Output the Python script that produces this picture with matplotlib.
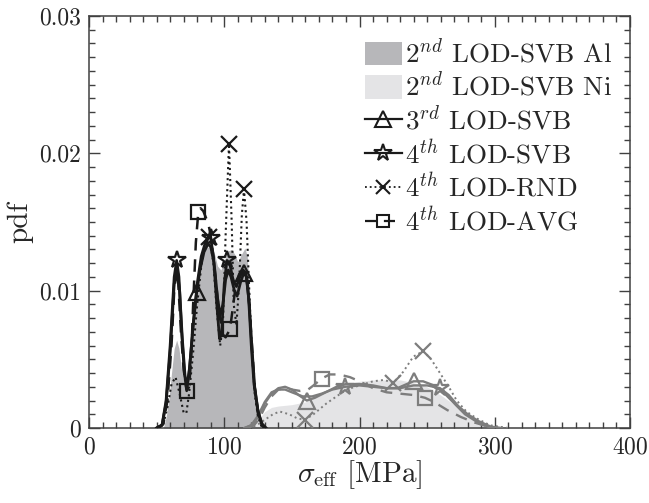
import numpy as np
import matplotlib
matplotlib.use("Agg")
import matplotlib.pyplot as plt
from matplotlib.patches import Patch
from matplotlib.lines import Line2D

plt.rcParams['font.family'] = 'serif'
plt.rcParams['font.serif'] = ['cmr10', 'DejaVu Serif']
plt.rcParams['mathtext.fontset'] = 'cm'
plt.rcParams['axes.formatter.use_mathtext'] = True

# ---------------- data ----------------
# 2nd LOD-SVB Al (filled, dark grey)
al_fill_x = [55, 57, 59, 61, 63, 64.8, 66.5, 68.5, 71, 73, 75, 78, 81, 84, 87, 90, 92.5, 95, 97.5,
             100, 103, 105.5, 108, 110, 112.5, 115.3, 117, 119, 120.5, 122, 123.5, 125, 127, 129]
al_fill_y = [0, 0.0008, 0.002, 0.004, 0.0058, 0.0064, 0.0058, 0.0042, 0.0030, 0.0040, 0.0065, 0.0095,
             0.0115, 0.0125, 0.0131, 0.0133, 0.0128, 0.0118, 0.0115, 0.0122, 0.0129, 0.0130, 0.0126,
             0.0121, 0.0126, 0.0131, 0.0125, 0.0095, 0.0060, 0.0035, 0.0018, 0.0008, 0.0002, 0]

# 2nd LOD-SVB Ni (filled, light grey)
ni_fill_x = [118, 122, 126, 130, 135, 140, 150, 160, 170, 180, 190, 200, 210, 220, 230, 240, 250,
             260, 270, 280, 290, 300, 306]
ni_fill_y = [0, 0.0002, 0.0007, 0.0012, 0.0015, 0.0016, 0.0017, 0.0019, 0.0024, 0.0029, 0.0032,
             0.0034, 0.0035, 0.0035, 0.0035, 0.0033, 0.0030, 0.0024, 0.0017, 0.0010, 0.0005,
             0.0001, 0]

# 3rd LOD-SVB
svb3_al_x = [50, 54, 57, 60, 63, 65, 67, 69, 71, 72.5, 74.5, 77, 79.6, 82, 85, 88, 90, 92.5, 95, 97,
             99, 101, 103, 105, 107.5, 109.5, 112, 114.5, 116.5, 118.5, 120.5, 122.5, 125, 127.5, 130]
svb3_al_y = [0, 0.0002, 0.0018, 0.0055, 0.0105, 0.0118, 0.0100, 0.0065, 0.0038, 0.0030, 0.0045,
             0.0075, 0.0099, 0.0115, 0.0128, 0.0134, 0.0132, 0.0120, 0.0095, 0.0082, 0.0090, 0.0108,
             0.0115, 0.0110, 0.0100, 0.0096, 0.0106, 0.0113, 0.0110, 0.0090, 0.0058, 0.0030, 0.0012,
             0.0003, 0]
svb3_al_mk = [79.6, 114.5]
svb3_ni_x = [115, 120, 125, 130, 135, 140, 145, 150, 155, 161, 167, 175, 183, 190, 200, 210, 220,
             228, 235, 240, 247, 255, 262, 270, 278, 286, 295, 302]
svb3_ni_y = [0, 0.0002, 0.0008, 0.0018, 0.0025, 0.0029, 0.0030, 0.0028, 0.0024, 0.0020, 0.0022,
             0.0026, 0.0030, 0.0032, 0.0032, 0.0031, 0.0029, 0.0029, 0.0032, 0.0034, 0.0034, 0.0031,
             0.0026, 0.0018, 0.0010, 0.0005, 0.0001, 0]
svb3_ni_mk = [161, 240]

# 4th LOD-SVB
svb4_al_x = [50, 54, 57, 60, 63, 64.8, 66.5, 68.5, 70.5, 72.2, 74, 77, 80, 83, 86, 88.5, 90, 92, 94.5,
             96.5, 98, 100, 102, 104, 106.5, 109, 111.5, 114, 116, 118, 120, 122, 125, 128, 131]
svb4_al_y = [0, 0.0002, 0.0020, 0.0060, 0.0110, 0.0122, 0.0110, 0.0070, 0.0040, 0.0028, 0.0040,
             0.0075, 0.0105, 0.0125, 0.0135, 0.0140, 0.0138, 0.0125, 0.0090, 0.0065, 0.0068, 0.0105,
             0.0122, 0.0120, 0.0108, 0.0103, 0.0110, 0.0115, 0.0113, 0.0095, 0.0060, 0.0032, 0.0012,
             0.0003, 0]
svb4_al_mk = [64.8, 90, 102]
svb4_ni_x = [115, 120, 125, 130, 135, 140, 145, 150, 158, 165, 172, 180, 189.3, 200, 210, 220, 230,
             240, 250, 259.5, 266, 273, 280, 288, 297, 305]
svb4_ni_y = [0, 0.0002, 0.0009, 0.0019, 0.0026, 0.0028, 0.0028, 0.0026, 0.0023, 0.0023, 0.0025,
             0.0028, 0.0030, 0.0031, 0.0030, 0.0029, 0.0029, 0.0031, 0.0031, 0.0029, 0.0024, 0.0016,
             0.0010, 0.0005, 0.0001, 0]
svb4_ni_mk = [189.3, 259.5]

# 4th LOD-RND
rnd_al_x = [52, 55, 58, 61, 64, 67, 70, 72, 74, 77, 80, 83, 86, 89, 92, 94.5, 97, 99, 101, 103.5,
            105.5, 107, 109, 111, 113, 114.6, 116.5, 118.5, 120.5, 122.5, 125, 128]
rnd_al_y = [0, 0.0003, 0.0015, 0.0032, 0.0037, 0.0025, 0.0011, 0.0011, 0.0025, 0.0055, 0.0090,
            0.0118, 0.0134, 0.0139, 0.0120, 0.0085, 0.0060, 0.0075, 0.0140, 0.0207, 0.0150, 0.0090,
            0.0075, 0.0105, 0.0155, 0.0174, 0.0150, 0.0100, 0.0055, 0.0025, 0.0008, 0]
rnd_al_mk = [89, 103.5, 114.6]
rnd_ni_x = [118, 124, 130, 136, 141, 148, 154, 159.7, 166, 175.7, 183, 190.5, 200, 210, 218, 225,
            232.4, 239.8, 247.2, 253, 259.5, 266, 271.9, 279, 286.6, 296.5, 310]
rnd_ni_y = [0, 0.0002, 0.0006, 0.0010, 0.0012, 0.0010, 0.0007, 0.0006, 0.0010, 0.0018, 0.0023,
            0.0028, 0.0031, 0.0034, 0.0035, 0.0033, 0.0041, 0.0052, 0.0056, 0.0050, 0.0040, 0.0030,
            0.0020, 0.0012, 0.0007, 0.0002, 0]
rnd_ni_mk = [159.7, 225, 247.2]

# 4th LOD-AVG
avg_al_x = [50, 55, 58, 61, 63, 64.5, 66, 68, 70, 72.2, 74, 75.5, 77, 79, 80.8, 82.5, 84.5, 86.5, 88,
            90, 93, 96, 99, 101, 104.3, 106, 108, 111, 114, 116.5, 118.5, 120.5, 122.5, 125, 127.5, 130]
avg_al_y = [0, 0.0003, 0.0020, 0.0060, 0.0100, 0.0115, 0.0105, 0.0070, 0.0042, 0.0027, 0.0030,
            0.0050, 0.0090, 0.0135, 0.0157, 0.0160, 0.0158, 0.0153, 0.0150, 0.0140, 0.0115, 0.0085,
            0.0068, 0.0066, 0.0072, 0.0085, 0.0100, 0.0112, 0.0115, 0.0110, 0.0090, 0.0060, 0.0030,
            0.0010, 0.0002, 0]
avg_al_mk = [72.2, 80.8, 104.3]
avg_ni_x = [118, 122, 126, 130, 135, 140, 145, 150, 156, 162, 166, 172, 178, 185, 193, 200, 210,
            220, 230, 240, 248.4, 255, 265, 275, 285, 295, 302]
avg_ni_y = [0, 0.0002, 0.0007, 0.0015, 0.0023, 0.0028, 0.0029, 0.0028, 0.0027, 0.0028, 0.0031,
            0.0036, 0.0039, 0.0039, 0.0037, 0.0034, 0.0029, 0.0026, 0.0025, 0.0024, 0.0022, 0.0019,
            0.0013, 0.0008, 0.0004, 0.0001, 0]
avg_ni_mk = [172, 248.4]

labels = [r'$2^{nd}$ LOD-SVB Al', r'$2^{nd}$ LOD-SVB Ni', r'$3^{rd}$ LOD-SVB',
          r'$4^{th}$ LOD-SVB', r'$4^{th}$ LOD-RND', r'$4^{th}$ LOD-AVG']

# ---------------- style ----------------
AL_FILL = '#b7b7ba'
NI_FILL = '#e4e4e6'
BLACK = '#1a1a1a'
GREY = '#7d7d7d'
TXT = '#262626'
AX = '#404040'

fig = plt.figure(figsize=(6.49, 5.03), dpi=100)
ax = fig.add_axes([89/649, 75/503, 541/649, 412/503])

ax.fill_between(al_fill_x, al_fill_y, 0, color=AL_FILL, lw=0, zorder=1)
ax.fill_between(ni_fill_x, ni_fill_y, 0, color=NI_FILL, lw=0, zorder=1)


def idx(xs, mk):
    return [xs.index(m) for m in mk]


def draw(x, y, mk, color, ls, marker, ms, lw, dashes=None):
    kw = dict(color=color, lw=lw, marker=marker, ms=ms, mfc='none', mec=color, mew=1.6,
              markevery=idx(x, mk), zorder=3)
    if dashes is not None:
        kw['dashes'] = dashes
    else:
        kw['ls'] = ls
    ax.plot(x, y, **kw)


# Ni (grey) curves
draw(svb3_ni_x, svb3_ni_y, svb3_ni_mk, GREY, '-', '^', 11, 1.7)
draw(svb4_ni_x, svb4_ni_y, svb4_ni_mk, GREY, '-', '*', 13, 1.7)
draw(rnd_ni_x, rnd_ni_y, rnd_ni_mk, GREY, ':', 'x', 11, 1.4)
draw(avg_ni_x, avg_ni_y, avg_ni_mk, GREY, '--', 's', 10, 1.7, dashes=(5, 3.5))
# Al (black) curves
draw(svb3_al_x, svb3_al_y, svb3_al_mk, BLACK, '-', '^', 11, 2.0)
draw(svb4_al_x, svb4_al_y, svb4_al_mk, BLACK, '-', '*', 13, 2.0)
draw(rnd_al_x, rnd_al_y, rnd_al_mk, BLACK, ':', 'x', 11, 1.5)
draw(avg_al_x, avg_al_y, avg_al_mk, BLACK, '--', 's', 10, 1.8, dashes=(5, 3.5))

ax.set_xlim(0, 400)
ax.set_ylim(0, 0.03)
ax.set_xticks([0, 100, 200, 300, 400])
ax.set_yticks([0, 0.01, 0.02, 0.03])
ax.set_yticklabels(['0', '0.01', '0.02', '0.03'])
ax.set_xticks(np.arange(0, 401, 10), minor=True)
ax.set_yticks(np.arange(0, 0.0301, 0.001), minor=True)
ax.tick_params(which='both', direction='in', top=True, right=True, colors=AX,
               labelcolor=TXT, labelsize=17, width=1.0)
ax.tick_params(which='major', length=8, pad=6)
ax.tick_params(which='minor', length=4.5)
for s in ax.spines.values():
    s.set_color(AX)
    s.set_linewidth(1.1)

ax.set_xlabel(r'$\sigma_{\mathrm{eff}}$ [MPa]', fontsize=21, color=TXT, labelpad=0)
ax.set_ylabel('pdf', fontsize=21, color=TXT, labelpad=4)

handles = [
    Patch(facecolor=AL_FILL, edgecolor='none'),
    Patch(facecolor=NI_FILL, edgecolor='none'),
    Line2D([], [], color=BLACK, lw=1.6, marker='^', ms=11, mfc='none', mec=BLACK, mew=1.5),
    Line2D([], [], color=BLACK, lw=1.6, marker='*', ms=13, mfc='none', mec=BLACK, mew=1.5),
    Line2D([], [], color=BLACK, lw=1.3, ls=':', marker='x', ms=10, mec=BLACK, mew=1.5),
    Line2D([], [], color=BLACK, lw=1.6, dashes=(5, 3.5), marker='s', ms=9, mfc='none', mec=BLACK, mew=1.5),
]
leg = ax.legend(handles, labels, loc='upper right', bbox_to_anchor=(0.997, 0.985), frameon=False,
                fontsize=19.5, handlelength=1.35, handleheight=0.95, labelspacing=0.17,
                handletextpad=0.12, borderaxespad=0.2)
for t in leg.get_texts():
    t.set_color(TXT)

fig.savefig('out.png', dpi=100)
